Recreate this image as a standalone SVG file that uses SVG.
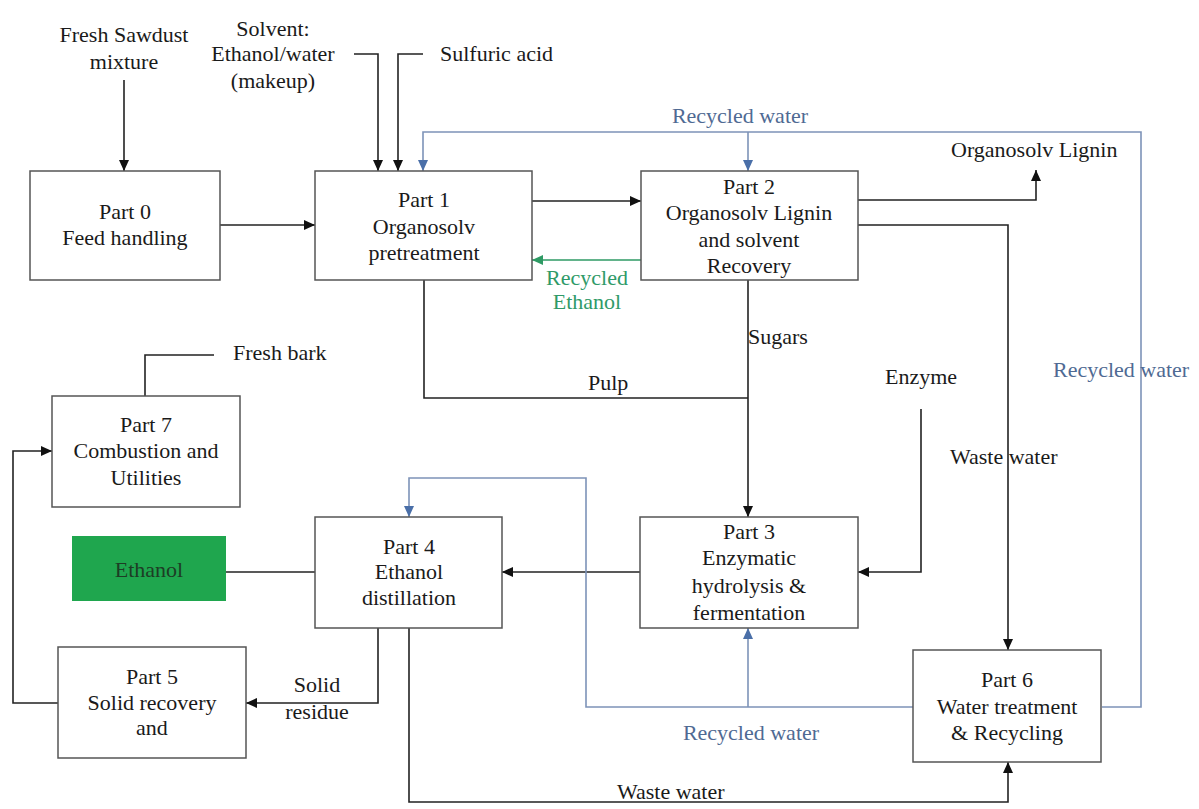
<svg xmlns="http://www.w3.org/2000/svg" width="1199" height="809" viewBox="0 0 1199 809">
<defs>
<marker id="ak" markerUnits="userSpaceOnUse" markerWidth="12" markerHeight="10" refX="11" refY="5" orient="auto"><path d="M0,0 L11,5 L0,10 Z" fill="#111"/></marker>
<marker id="ab" markerUnits="userSpaceOnUse" markerWidth="12" markerHeight="10" refX="11" refY="5" orient="auto"><path d="M0,0 L11,5 L0,10 Z" fill="#4a6fa8"/></marker>
<marker id="ag" markerUnits="userSpaceOnUse" markerWidth="12" markerHeight="10" refX="11" refY="5" orient="auto"><path d="M0,0 L11,5 L0,10 Z" fill="#2e9a64"/></marker>
</defs>
<rect width="1199" height="809" fill="#fff"/>
<g id="connectors" fill="none" stroke-width="1.6">
<g stroke="#222">
<path d="M124,80 V171" marker-end="url(#ak)"/>
<path d="M354,54 H378 V171" marker-end="url(#ak)"/>
<path d="M423,54 H398 V171" marker-end="url(#ak)"/>
<path d="M220,225 H315" marker-end="url(#ak)"/>
<path d="M532,201 H641" marker-end="url(#ak)"/>
<path d="M858,200 H1036 V170" marker-end="url(#ak)"/>
<path d="M858,225 H1008 V650" marker-end="url(#ak)"/>
<path d="M424,280 V398 H748"/>
<path d="M748,280 V517" marker-end="url(#ak)"/>
<path d="M921,409 V572 H858" marker-end="url(#ak)"/>
<path d="M640,572 H502" marker-end="url(#ak)"/>
<path d="M315,572 H226"/>
<path d="M378,628 V703 H246" marker-end="url(#ak)"/>
<path d="M409,628 V802 H1008 V762" marker-end="url(#ak)"/>
<path d="M58,703 H13 V451 H52" marker-end="url(#ak)"/>
<path d="M145,396 V355 H214"/>
</g>
<path stroke="#2e9a64" d="M641,260 H532" marker-end="url(#ag)"/>
<g stroke="#7d93b8">
<path d="M1102,707 H1141 V132 H423 V171" marker-end="url(#ab)"/>
<path d="M748,132 V171" marker-end="url(#ab)"/>
<path d="M913,707 H586 V478 H409 V517" marker-end="url(#ab)"/>
<path d="M748,707 V628" marker-end="url(#ab)"/>
</g>
</g>
<g id="labels">
<text font-family="Liberation Serif" font-size="22" fill="#1a1a1a" text-anchor="middle" x="124" y="42">Fresh Sawdust</text>
<text font-family="Liberation Serif" font-size="22" fill="#1a1a1a" text-anchor="middle" x="124" y="69">mixture</text>
<text font-family="Liberation Serif" font-size="22" fill="#1a1a1a" text-anchor="middle" x="273" y="36">Solvent:</text>
<text font-family="Liberation Serif" font-size="22" fill="#1a1a1a" text-anchor="middle" x="273" y="61">Ethanol/water</text>
<text font-family="Liberation Serif" font-size="22" fill="#1a1a1a" text-anchor="middle" x="273" y="88">(makeup)</text>
<text font-family="Liberation Serif" font-size="22" fill="#1a1a1a" x="440" y="61">Sulfuric acid</text>
<text font-family="Liberation Serif" font-size="22" fill="#4f6a93" text-anchor="middle" x="740" y="123">Recycled water</text>
<text font-family="Liberation Serif" font-size="22" fill="#1a1a1a" x="951" y="157">Organosolv Lignin</text>
<text font-family="Liberation Serif" font-size="22" fill="#2f9a68" text-anchor="middle" x="587" y="285">Recycled</text>
<text font-family="Liberation Serif" font-size="22" fill="#2f9a68" text-anchor="middle" x="587" y="309">Ethanol</text>
<text font-family="Liberation Serif" font-size="22" fill="#1a1a1a" x="748" y="344">Sugars</text>
<text font-family="Liberation Serif" font-size="22" fill="#1a1a1a" x="588" y="390">Pulp</text>
<text font-family="Liberation Serif" font-size="22" fill="#1a1a1a" x="885" y="384">Enzyme</text>
<text font-family="Liberation Serif" font-size="22" fill="#1a1a1a" x="950" y="464">Waste water</text>
<text font-family="Liberation Serif" font-size="22" fill="#4f6a93" x="1053" y="377">Recycled water</text>
<text font-family="Liberation Serif" font-size="22" fill="#1a1a1a" x="233" y="360">Fresh bark</text>
<text font-family="Liberation Serif" font-size="22" fill="#1a1a1a" text-anchor="middle" x="317" y="692">Solid</text>
<text font-family="Liberation Serif" font-size="22" fill="#1a1a1a" text-anchor="middle" x="317" y="719">residue</text>
<text font-family="Liberation Serif" font-size="22" fill="#4f6a93" text-anchor="middle" x="751" y="740">Recycled water</text>
<text font-family="Liberation Serif" font-size="22" fill="#1a1a1a" x="617" y="799">Waste water</text>
</g>
<g id="part0"><rect fill="#fff" stroke="#555" stroke-width="1.5" x="30" y="171" width="190" height="109"/><text font-family="Liberation Serif" font-size="22" fill="#1a1a1a" text-anchor="middle" x="125" y="219">Part 0</text><text font-family="Liberation Serif" font-size="22" fill="#1a1a1a" text-anchor="middle" x="125" y="245">Feed handling</text></g>
<g id="part1"><rect fill="#fff" stroke="#555" stroke-width="1.5" x="315" y="171" width="217" height="109"/><text font-family="Liberation Serif" font-size="22" fill="#1a1a1a" text-anchor="middle" x="424" y="207">Part 1</text><text font-family="Liberation Serif" font-size="22" fill="#1a1a1a" text-anchor="middle" x="424" y="234">Organosolv</text><text font-family="Liberation Serif" font-size="22" fill="#1a1a1a" text-anchor="middle" x="424" y="260">pretreatment</text></g>
<g id="part2"><rect fill="#fff" stroke="#555" stroke-width="1.5" x="641" y="171" width="217" height="109"/><text font-family="Liberation Serif" font-size="22" fill="#1a1a1a" text-anchor="middle" x="749" y="194">Part 2</text><text font-family="Liberation Serif" font-size="22" fill="#1a1a1a" text-anchor="middle" x="749" y="220">Organosolv Lignin</text><text font-family="Liberation Serif" font-size="22" fill="#1a1a1a" text-anchor="middle" x="749" y="247">and solvent</text><text font-family="Liberation Serif" font-size="22" fill="#1a1a1a" text-anchor="middle" x="749" y="273">Recovery</text></g>
<g id="part7"><rect fill="#fff" stroke="#555" stroke-width="1.5" x="52" y="396" width="188" height="111"/><text font-family="Liberation Serif" font-size="22" fill="#1a1a1a" text-anchor="middle" x="146" y="432">Part 7</text><text font-family="Liberation Serif" font-size="22" fill="#1a1a1a" text-anchor="middle" x="146" y="458">Combustion and</text><text font-family="Liberation Serif" font-size="22" fill="#1a1a1a" text-anchor="middle" x="146" y="485">Utilities</text></g>
<g id="ethanol"><rect x="72" y="536" width="154" height="65" fill="#1fa64e"/><text font-family="Liberation Serif" font-size="22" fill="#1d3d25" text-anchor="middle" x="149" y="577">Ethanol</text></g>
<g id="part4"><rect fill="#fff" stroke="#555" stroke-width="1.5" x="315" y="517" width="187" height="111"/><text font-family="Liberation Serif" font-size="22" fill="#1a1a1a" text-anchor="middle" x="409" y="554">Part 4</text><text font-family="Liberation Serif" font-size="22" fill="#1a1a1a" text-anchor="middle" x="409" y="579">Ethanol</text><text font-family="Liberation Serif" font-size="22" fill="#1a1a1a" text-anchor="middle" x="409" y="605">distillation</text></g>
<g id="part3"><rect fill="#fff" stroke="#555" stroke-width="1.5" x="640" y="517" width="218" height="111"/><text font-family="Liberation Serif" font-size="22" fill="#1a1a1a" text-anchor="middle" x="749" y="539">Part 3</text><text font-family="Liberation Serif" font-size="22" fill="#1a1a1a" text-anchor="middle" x="749" y="565">Enzymatic</text><text font-family="Liberation Serif" font-size="22" fill="#1a1a1a" text-anchor="middle" x="749" y="593">hydrolysis &amp;</text><text font-family="Liberation Serif" font-size="22" fill="#1a1a1a" text-anchor="middle" x="749" y="620">fermentation</text></g>
<g id="part5"><rect fill="#fff" stroke="#555" stroke-width="1.5" x="58" y="647" width="188" height="111"/><text font-family="Liberation Serif" font-size="22" fill="#1a1a1a" text-anchor="middle" x="152" y="684">Part 5</text><text font-family="Liberation Serif" font-size="22" fill="#1a1a1a" text-anchor="middle" x="152" y="710">Solid recovery</text><text font-family="Liberation Serif" font-size="22" fill="#1a1a1a" text-anchor="middle" x="152" y="735">and</text></g>
<g id="part6"><rect fill="#fff" stroke="#555" stroke-width="1.5" x="913" y="650" width="188" height="112"/><text font-family="Liberation Serif" font-size="22" fill="#1a1a1a" text-anchor="middle" x="1007" y="687">Part 6</text><text font-family="Liberation Serif" font-size="22" fill="#1a1a1a" text-anchor="middle" x="1007" y="714">Water treatment</text><text font-family="Liberation Serif" font-size="22" fill="#1a1a1a" text-anchor="middle" x="1007" y="740">&amp; Recycling</text></g>
</svg>
